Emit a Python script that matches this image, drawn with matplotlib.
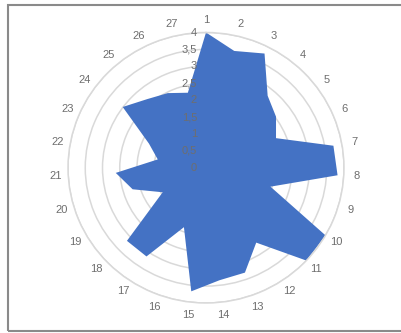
import numpy as np
import matplotlib
matplotlib.use("Agg")
import matplotlib.pyplot as plt
from matplotlib.patches import Rectangle
from matplotlib.transforms import offset_copy

categories = [str(i) for i in range(1, 28)]
values = [4.0, 3.55, 3.78, 2.78, 2.53, 2.21, 3.75, 3.82, 1.95, 4.0,
          4.0, 2.65, 3.3, 3.35, 3.68, 1.87, 3.14, 3.15, 1.45, 2.22,
          2.62, 1.42, 1.8, 3.01, 2.65, 2.47, 2.28]
r_ticks = [0, 0.5, 1, 1.5, 2, 2.5, 3, 3.5, 4]
r_labels = ["0", "0,5", "1", "1,5", "2", "2,5", "3", "3,5", "4"]

W, H = 401, 333
fig = plt.figure(figsize=(W / 100, H / 100), dpi=100)
fig.patch.set_facecolor("white")

# frame around the chart area
fig.patches.append(Rectangle((8 / W, 2 / H), 400 / W, 326 / H, transform=fig.transFigure,
                             fill=False, edgecolor="#8a8a8a", linewidth=1.5))

cx, cy, rx, ry = 206, 167.75, 138, 135.25
ax = fig.add_axes([(cx - rx) / W, (H - cy - ry) / H, 2 * rx / W, 2 * ry / H], projection="polar")
ax.set_aspect("auto")
ax.set_theta_zero_location("N")
ax.set_theta_direction(-1)
ax.set_ylim(0, 4)

theta = np.arange(len(values)) * 2 * np.pi / len(values)
th = np.append(theta, theta[0])
vals = np.append(values, values[0])
ax.fill(th, vals, color="#4472C4", zorder=2, linewidth=0)

ax.set_xticks(theta)
ax.set_xticklabels([])
ax.xaxis.grid(False)
ax.set_yticks(r_ticks[1:])
ax.set_yticklabels([])
ax.yaxis.grid(True, color="#d9d9d9", linewidth=1.1)
ax.spines["polar"].set_color("#d9d9d9")
ax.spines["polar"].set_linewidth(1.1)
ax.tick_params(length=0)

font = dict(family="Liberation Sans", size=8, color="#6e6e6e")

# value scale along the vertical axis
trans = offset_copy(ax.transData, fig=fig, x=-9, y=0, units="dots")
for v, lab in zip(r_ticks, r_labels):
    ax.text(0, v, lab, transform=trans, ha="right", va="center", zorder=5, **font)

for t, lab in zip(theta, categories):
    ax.text(t, 4.37, lab, ha="center", va="center", zorder=5, **font)

fig.savefig("out.png", dpi=100)
